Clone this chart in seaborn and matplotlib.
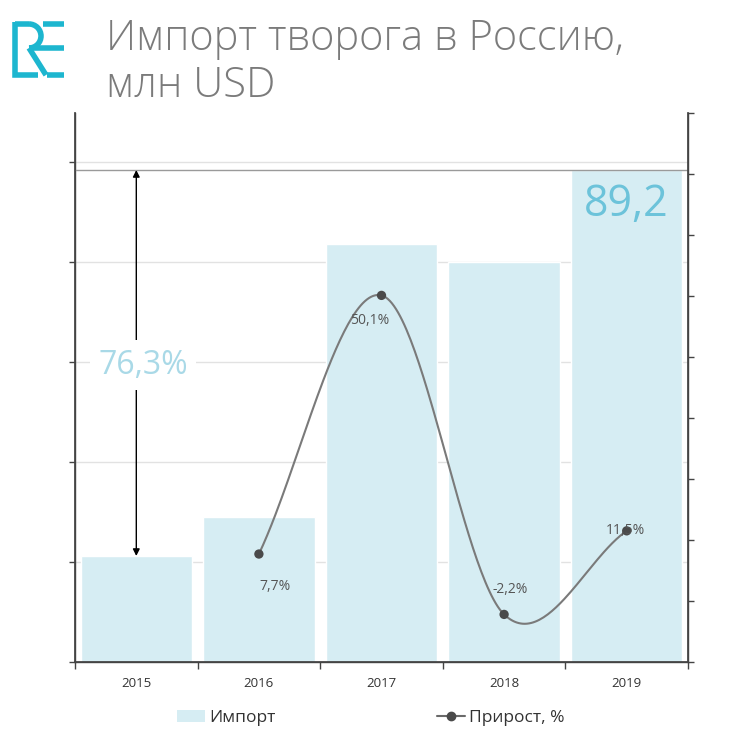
import numpy as np
import pandas as pd
import matplotlib
matplotlib.use("Agg")
import matplotlib.pyplot as plt
import seaborn as sns
from matplotlib.patches import Patch, Arc
from matplotlib.lines import Line2D

# ---------------- data ----------------
years = ["2015", "2016", "2017", "2018", "2019"]
imports = [50.6, 54.5, 81.8, 80.0, 89.2]
growth_years = ["2016", "2017", "2018", "2019"]
growth = [7.7, 50.1, -2.2, 11.5]
growth_labels = ["7,7%", "50,1%", "-2,2%", "11,5%"]
total_growth_label = "76,3%"
last_value_label = "89,2"
title_lines = ["Импорт творога в Россию,", "млн USD"]
legend_labels = ["Импорт", "Прирост, %"]

sns.set_theme(style="white")
plt.rcParams["font.family"] = ["Open Sans", "DejaVu Sans"]

W = H = 756
fig = plt.figure(figsize=(W / 100, H / 100), dpi=100)
ax = fig.add_axes([75 / W, 1 - 662 / H, (688 - 75) / W, (662 - 113) / H])

df = pd.DataFrame({"year": years, "value": imports})
bar_color = "#d6edf3"
sns.barplot(data=df, x="year", y="value", color=bar_color, width=0.91,
            saturation=1, ax=ax, zorder=2)
ax.set_xlim(-0.5, 4.5)
ax.set_ylim(40, 94.9)
ax.set_yticks(np.arange(40, 91, 10))
ax.set_yticklabels([])
ax.set_xlabel("")
ax.set_ylabel("")
for y in np.arange(50, 91, 10):
    ax.axhline(y, color="#e2e2e2", lw=1, zorder=0)
ax.axhline(imports[-1], color="#9a9a9a", lw=1, zorder=3)

spine_c = "#444444"
for s in ["left", "bottom", "right"]:
    ax.spines[s].set_color(spine_c)
    ax.spines[s].set_linewidth(1)
ax.spines["top"].set_visible(False)
ax.tick_params(axis="y", left=True, length=4, width=1, color=spine_c, direction="out")
ax.set_xticks(range(len(years)))
ax.set_xticklabels(years, fontsize=9.5, color="#333333")
ax.tick_params(axis="x", which="major", length=0, pad=11)
ax.set_xticks(np.arange(-0.5, 4.6, 1), minor=True)
ax.tick_params(axis="x", which="minor", bottom=True, length=5, width=1, color=spine_c, direction="out")

# total growth arrow
ax.annotate("", xy=(0, imports[-1]), xytext=(0, imports[0]),
            arrowprops=dict(arrowstyle="<|-|>", color="black", lw=1,
                            mutation_scale=10, shrinkA=0, shrinkB=0), zorder=4)
ax.text(0.055, 69.7, total_growth_label, fontsize=23, color="#a9d9e7",
        ha="center", va="center", zorder=5,
        bbox=dict(facecolor="white", edgecolor="none", pad=6))
ax.text(4, 85.7, last_value_label, fontsize=31, color="#6cc3da",
        ha="center", va="center", zorder=5)

# growth line on right axis
ax2 = ax.twinx()
ax2.set_ylim(-10, 79.9)
ax2.set_yticks(np.arange(-10, 81, 10))
ax2.set_yticklabels([])
ax2.tick_params(axis="y", right=True, length=4, width=1, color=spine_c, direction="out")
for s in ["left", "bottom", "right"]:
    ax2.spines[s].set_color(spine_c)
ax2.spines["top"].set_visible(False)
ax2.grid(False)

gx = np.array([years.index(y) for y in growth_years], dtype=float)
gy = np.array(growth, dtype=float)
# Catmull-Rom rendering of the smoothed line through the data points
n = len(gx)
m = np.zeros(n)
for i in range(n):
    if i == 0:
        m[i] = gy[1] - gy[0]
    elif i == n - 1:
        m[i] = gy[-1] - gy[-2]
    else:
        m[i] = (gy[i + 1] - gy[i - 1]) / 2
xs, ys = [], []
for i in range(n - 1):
    t = np.linspace(0, 1, 60)
    h00 = 2 * t**3 - 3 * t**2 + 1
    h10 = t**3 - 2 * t**2 + t
    h01 = -2 * t**3 + 3 * t**2
    h11 = t**3 - t**2
    xs.append(gx[i] + t)
    ys.append(h00 * gy[i] + h10 * m[i] + h01 * gy[i + 1] + h11 * m[i + 1])
xs = np.concatenate(xs)
ys = np.concatenate(ys)
ax2.plot(xs, ys, color="#7a7a7a", lw=1.5, zorder=3)
sns.scatterplot(x=gx, y=gy, color="#4a4a4a", s=45, edgecolor="none", ax=ax2, zorder=4)

offsets = [(16, -32), (-12, -25), (6, 25), (-1, 0)]
for x, y, lab, off in zip(gx, gy, growth_labels, offsets):
    ax2.annotate(lab, (x, y), xytext=off, textcoords="offset pixels",
                 ha="center", va="center", fontsize=10, color="#555555", zorder=5)

# title (two lines, baselines as in the reference)
fig.text(106 / W, 1 - 50 / H, title_lines[0], fontsize=30, color="#7b7b7b",
         ha="left", va="baseline", fontweight="light")
fig.text(106 / W, 1 - 97 / H, title_lines[1], fontsize=30, color="#7b7b7b",
         ha="left", va="baseline", fontweight="light")

# logo
lc = "#1db6cf"
def fl(xp, yp, **kw):
    fig.add_artist(Line2D(np.array(xp) / W, 1 - np.array(yp) / H,
                          transform=fig.transFigure, color=lc, lw=4,
                          solid_capstyle="butt", solid_joinstyle="miter", **kw))
fl([15, 15, 38], [22, 75, 75])
fl([15, 29], [24, 24])
fl([29, 64], [48, 48])
fl([43, 64], [24, 24])
fl([47, 64], [75, 75])
fl([29, 46], [48, 75])
fig.add_artist(Arc((29 / W, 1 - 36 / H), 24 / W, 24 / H, theta1=-90, theta2=90,
                   transform=fig.transFigure, color=lc, lw=4))

# legend
handles = [Patch(facecolor=bar_color, edgecolor="none"),
           Line2D([0], [0], color="#6a6a6a", lw=1.5, marker="o", markersize=6,
                  markerfacecolor="#4a4a4a", markeredgecolor="#4a4a4a")]
fig.legend(handles, legend_labels, loc="center", bbox_to_anchor=(0.491, 1 - 718 / H),
           ncol=2, frameon=False, fontsize=12.5, columnspacing=9.3,
           handlelength=1.6, handletextpad=0.25, labelcolor="#333333")

fig.savefig("out.png", dpi=100)
